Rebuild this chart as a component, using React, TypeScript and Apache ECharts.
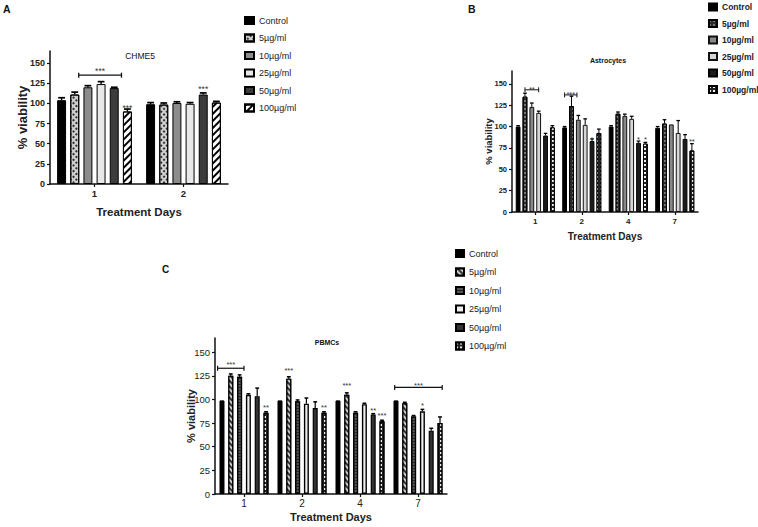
import React, { useEffect, useRef } from 'react';
import * as echarts from 'echarts';

const doseNames = ['Control', '5µg/ml', '10µg/ml', '25µg/ml', '50µg/ml', '100µg/ml'];
const daysA = ['1', '2'];
const daysBC = ['1', '2', '4', '7'];
const yTicks = [0, 25, 50, 75, 100, 125, 150];

// Panel A (CHME5): rows = dose, columns = day
const meanA = [
  [104, 99],
  [111, 98.5],
  [120, 100.5],
  [124, 99.5],
  [119, 111],
  [90, 101],
];
const upperA = [
  [107, 101],
  [114, 100.5],
  [122, 102],
  [127, 101],
  [120, 113],
  [93, 102.5],
];

// Panel B (Astrocytes)
const meanB = [
  [100, 99, 100, 98.5],
  [135, 124, 115, 103.5],
  [123, 108, 112.5, 102.5],
  [116, 102, 109, 92.5],
  [89.5, 83, 81, 85.5],
  [99, 92.5, 80, 72],
];
const upperB = [
  [101, 100, 101, 100],
  [139, 135.5, 117, 108],
  [127.5, 113, 114.5, 102.5],
  [118, 109, 112, 107],
  [92, 85.5, 83, 90.5],
  [101, 97, 81.5, 80],
];

// Panel C (PBMCs)
const meanC = [
  [99, 99, 99, 99],
  [125, 122, 105, 96],
  [124, 98, 86, 82],
  [105, 95.5, 95, 87.5],
  [103.5, 91, 84, 67],
  [86, 86, 77, 75],
];
const upperC = [
  [99, 99, 99, 99],
  [127, 124, 107, 97],
  [126, 99.5, 87, 83],
  [106, 101.5, 96, 89.5],
  [112, 97.5, 85, 69.5],
  [87, 87, 78, 81.5],
];

// significance annotations
const bracketsA = [{ day: 0, from: 1.3, to: 4.55, y: 135, ty: 143.5, text: '***' }];
const starsA = [
  { day: 0, dose: 5, y: 98, text: '***' },
  { day: 1, dose: 4, y: 121.5, text: '***' },
];
const bracketsB = [
  { day: 0, from: 1, to: 3, y: 143, ty: 145.5, text: '**' },
  { day: 1, from: 0, to: 1.8, y: 137, ty: 140, text: '***' },
];
const starsB = [
  { day: 1, dose: 4, y: 88, text: '*' },
  { day: 2, dose: 4, y: 88, text: '*' },
  { day: 2, dose: 5, y: 88, text: '*' },
  { day: 3, dose: 5, y: 85, text: '**' },
];
const bracketsC = [
  { day: 0, from: -0.5, to: 2.5, y: 133, ty: 139, text: '***' },
  { day: 3, from: -0.15, to: 5.25, y: 112.7, ty: 117.5, text: '***' },
];
const starsC = [
  { day: 0, dose: 5, y: 94, text: '**' },
  { day: 1, dose: 1, y: 133, text: '***' },
  { day: 1, dose: 5, y: 94, text: '**' },
  { day: 2, dose: 1, y: 117, text: '***' },
  { day: 2, dose: 4, y: 90.5, text: '**' },
  { day: 2, dose: 5, y: 85, text: '***' },
  { day: 3, dose: 3, y: 96, text: '*' },
];

const FONT = '"Liberation Sans", Arial, Helvetica, sans-serif';

const geomA = { c: 0.16, g: 0.47, n: 6 };
const geomB = { c: 0.16, g: 0.43, n: 6 };
const geomC = { c: 0.155, g: 0.76, n: 6 };

const stylesA: any[] = [
  { color: '#000', borderColor: '#000', borderWidth: 1 },
  {
    color: '#d0d0d0', borderColor: '#000', borderWidth: 1,
    decal: { symbol: 'rect', symbolSize: 1, dashArrayX: [1.5, 1.5], dashArrayY: [1.5, 1.5], rotation: Math.PI / 4, color: '#333' },
  },
  { color: '#8c8c8c', borderColor: '#000', borderWidth: 1 },
  { color: '#e8e8e8', borderColor: '#000', borderWidth: 1 },
  { color: '#3c3c3c', borderColor: '#000', borderWidth: 1 },
  {
    color: '#fff', borderColor: '#000', borderWidth: 1,
    decal: { symbol: 'rect', symbolSize: 1, dashArrayX: [1, 0], dashArrayY: [1.6, 2.2], rotation: -Math.PI / 4, color: '#000' },
  },
];
const stylesB: any[] = [
  { color: '#000', borderColor: '#000', borderWidth: 1 },
  {
    color: '#2a2a2a', borderColor: '#000', borderWidth: 1,
    decal: { symbol: 'rect', symbolSize: 0.7, dashArrayX: [1.2, 1.8], dashArrayY: [1.2, 1.8], color: '#bbb' },
  },
  { color: '#888', borderColor: '#111', borderWidth: 1 },
  { color: '#d6d6d6', borderColor: '#111', borderWidth: 1 },
  { color: '#1c1c1c', borderColor: '#000', borderWidth: 1 },
  {
    color: '#222', borderColor: '#000', borderWidth: 1,
    decal: { symbol: 'rect', symbolSize: 1, dashArrayX: [1.2, 1.8], dashArrayY: [1.5, 1.5], color: '#eee' },
  },
];
const stylesC: any[] = [
  { color: '#000', borderColor: '#000', borderWidth: 1 },
  {
    color: '#333', borderColor: '#000', borderWidth: 1.2,
    decal: { symbol: 'rect', symbolSize: 1, dashArrayX: [1, 0], dashArrayY: [1.5, 1.5], rotation: Math.PI / 4, color: '#ccc' },
  },
  {
    color: '#555', borderColor: '#000', borderWidth: 1.2,
    decal: { symbol: 'rect', symbolSize: 1, dashArrayX: [1, 0], dashArrayY: [1, 2], color: '#222' },
  },
  { color: '#eee', borderColor: '#000', borderWidth: 1.4 },
  { color: '#333', borderColor: '#000', borderWidth: 1.2 },
  {
    color: '#222', borderColor: '#000', borderWidth: 1.2,
    decal: { symbol: 'rect', symbolSize: 1, dashArrayX: [1.2, 1.8], dashArrayY: [1.5, 1.5], color: '#eee' },
  },
];

function barPos(api: any, day: number, dose: number, geom: any) {
  const band = api.size([1, 0])[0];
  const avail = band * (1 - geom.c);
  const bw = avail / (geom.n + (geom.n - 1) * geom.g);
  const cx = api.coord([day, 0])[0];
  return { x: cx - avail / 2 + bw * (1 + geom.g) * dose + bw / 2, bw };
}

function barSeries(prefix: string, mean: number[][], styles: any[], idx: number, geom: any) {
  return mean.map((row, dose) => ({
    type: 'bar',
    name: prefix + '|' + doseNames[dose],
    xAxisIndex: idx,
    yAxisIndex: idx,
    data: row,
    barGap: geom.g * 100 + '%',
    barCategoryGap: geom.c * 100 + '%',
    itemStyle: styles[dose],
    silent: true,
  }));
}

function errorSeries(mean: number[][], upper: number[][], idx: number, geom: any, lw: number) {
  const data: number[][] = [];
  mean.forEach((row, dose) => row.forEach((m, day) => data.push([day, dose, m, upper[dose][day]])));
  return {
    type: 'custom',
    xAxisIndex: idx,
    yAxisIndex: idx,
    z: 5,
    silent: true,
    clip: false,
    encode: { x: 0, y: 2 },
    data,
    renderItem: (_p: any, api: any) => {
      const day = api.value(0);
      const dose = api.value(1);
      const m = api.value(2);
      const u = api.value(3);
      if (!(u > m)) return { type: 'group', children: [] };
      const { x, bw } = barPos(api, day, dose, geom);
      const y0 = api.coord([day, m])[1];
      const y1 = api.coord([day, u])[1];
      const cap = bw * 0.38;
      return {
        type: 'group',
        children: [
          { type: 'line', shape: { x1: x, y1: y0, x2: x, y2: y1 }, style: { stroke: '#000', lineWidth: lw } },
          { type: 'line', shape: { x1: x - cap, y1: y1, x2: x + cap, y2: y1 }, style: { stroke: '#000', lineWidth: lw + 0.3 } },
        ],
      };
    },
  };
}

function starSeries(stars: any[], idx: number, geom: any, fs: number) {
  return {
    type: 'custom',
    xAxisIndex: idx,
    yAxisIndex: idx,
    z: 6,
    silent: true,
    clip: false,
    encode: { x: 0, y: 2 },
    data: stars.map((s) => [s.day, s.dose, s.y]),
    renderItem: (p: any, api: any) => {
      const s = stars[p.dataIndex];
      const { x } = barPos(api, api.value(0), api.value(1), geom);
      const y = api.coord([api.value(0), api.value(2)])[1];
      return {
        type: 'text',
        style: { text: s.text, x, y: y + fs * 0.3, align: 'center', verticalAlign: 'middle', fontSize: fs, fontFamily: FONT, fill: '#333' },
      };
    },
  };
}

function bracketSeries(brackets: any[], idx: number, geom: any, fs: number, lw: number) {
  return {
    type: 'custom',
    xAxisIndex: idx,
    yAxisIndex: idx,
    z: 6,
    silent: true,
    clip: false,
    encode: { x: 0, y: 3 },
    data: brackets.map((b) => [b.day, b.from, b.to, b.y, b.ty]),
    renderItem: (p: any, api: any) => {
      const b = brackets[p.dataIndex];
      const day = api.value(0);
      const xa = barPos(api, day, api.value(1), geom).x;
      const xb = barPos(api, day, api.value(2), geom).x;
      const y = api.coord([day, api.value(3)])[1];
      const ty = api.coord([day, api.value(4)])[1];
      const st = { stroke: '#111', lineWidth: lw };
      return {
        type: 'group',
        children: [
          { type: 'line', shape: { x1: xa, y1: y, x2: xb, y2: y }, style: st },
          { type: 'line', shape: { x1: xa, y1: y - 2.5, x2: xa, y2: y + 2.5 }, style: st },
          { type: 'line', shape: { x1: xb, y1: y - 2.5, x2: xb, y2: y + 2.5 }, style: st },
          {
            type: 'text',
            style: { text: b.text, x: (xa + xb) / 2, y: ty + fs * 0.3, align: 'center', verticalAlign: 'middle', fontSize: fs, fontFamily: FONT, fill: '#333' },
          },
        ],
      };
    },
  };
}

function makeX(idx: number, data: string[], fs: number, bold: boolean, margin: number, nameFs: number, nameGap: number) {
  return {
    type: 'category',
    gridIndex: idx,
    data,
    axisLine: { show: true, lineStyle: { color: '#111', width: 1.5 } },
    axisTick: { show: true, alignWithLabel: true, length: 3, lineStyle: { color: '#111', width: 1.2 } },
    axisLabel: { fontSize: fs, fontWeight: bold ? 'bold' : 'normal', color: '#222', margin, fontFamily: FONT },
    splitLine: { show: false },
    name: 'Treatment Days',
    nameLocation: 'middle',
    nameGap,
    nameMoveOverlap: false,
    nameTextStyle: { fontSize: nameFs, fontWeight: 'bold', color: '#222', fontFamily: FONT },
  };
}

function makeY(idx: number, fs: number, bold: boolean, margin: number, nameFs: number, nameGap: number) {
  return {
    type: 'value',
    gridIndex: idx,
    min: 0,
    max: 165,
    axisLine: { show: true, lineStyle: { color: '#111', width: 1.5 } },
    axisTick: { show: true, length: 3, customValues: yTicks, lineStyle: { color: '#111', width: 1.2 } },
    axisLabel: { customValues: yTicks, fontSize: fs, fontWeight: bold ? 'bold' : 'normal', color: '#222', margin, fontFamily: FONT },
    splitLine: { show: false },
    name: '% viability',
    nameLocation: 'middle',
    nameGap,
    nameRotate: 90,
    nameMoveOverlap: false,
    nameTextStyle: { fontSize: nameFs, fontWeight: 'bold', color: '#222', fontFamily: FONT },
  };
}

function makeLegend(prefix: string, left: number, top: number, itemGap: number, fs: number, bold: boolean, iw: number) {
  return {
    orient: 'vertical',
    left,
    top,
    itemWidth: iw,
    itemHeight: 7,
    itemGap,
    icon: 'rect',
    selectedMode: false,
    padding: 0,
    data: doseNames.map((d) => prefix + '|' + d),
    formatter: (n: string) => n.split('|')[1],
    textStyle: { fontSize: fs, fontWeight: bold ? 'bold' : 'normal', color: '#222', fontFamily: FONT, padding: [0, 0, 0, 0] },
  };
}

function gtext(text: string, x: number, y: number, fs: number, bold: boolean, align = 'left') {
  return {
    type: 'text',
    x,
    y,
    silent: true,
    style: { text, align, verticalAlign: 'top', fontSize: fs, fontWeight: bold ? 'bold' : 'normal', fontFamily: FONT, fill: '#111' },
  };
}

export default function App() {
  const ref = useRef<HTMLDivElement>(null);
  useEffect(() => {
    if (!ref.current) return;
    const chart = echarts.init(ref.current, null, { renderer: 'svg' });
    const option: any = {
      animation: false,
      backgroundColor: '#fff',
      grid: [
        { left: 50, top: 51, width: 178, height: 133, outerBoundsMode: 'none' },
        { left: 512, top: 71, width: 186, height: 141, outerBoundsMode: 'none' },
        { left: 215, top: 338, width: 232, height: 156, outerBoundsMode: 'none' },
      ],
      xAxis: [
        makeX(0, daysA, 9.5, true, 4, 11.5, 22),
        makeX(1, daysBC, 8, true, 5, 10, 19),
        makeX(2, daysBC, 10, false, 4, 11, 17),
      ],
      yAxis: [
        makeY(0, 9, true, 5, 13, 21),
        makeY(1, 7.5, true, 5, 9.5, 19),
        makeY(2, 9.5, false, 5, 11, 19),
      ],
      legend: [
        makeLegend('A', 244, 16, 8.5, 9, false, 9),
        makeLegend('B', 708, 2.5, 7.5, 8.5, true, 8),
        makeLegend('C', 455, 249, 9.5, 9, false, 8),
      ],
      graphic: [
        gtext('A', 3, 3, 10.5, true),
        gtext('B', 468, 3, 10.5, true),
        gtext('C', 162, 264, 10, true),
        gtext('CHME5', 140, 51, 8.5, false, 'center'),
        gtext('Astrocytes', 608, 57, 7, true, 'center'),
        gtext('PBMCs', 327, 339, 7, true, 'center'),
      ],
      series: [
        ...barSeries('A', meanA, stylesA, 0, geomA),
        ...barSeries('B', meanB, stylesB, 1, geomB),
        ...barSeries('C', meanC, stylesC, 2, geomC),
        errorSeries(meanA, upperA, 0, geomA, 1.4),
        errorSeries(meanB, upperB, 1, geomB, 1),
        errorSeries(meanC, upperC, 2, geomC, 1.2),
        starSeries(starsA, 0, geomA, 8.5),
        starSeries(starsB, 1, geomB, 7.5),
        starSeries(starsC, 2, geomC, 7.5),
        bracketSeries(bracketsA, 0, geomA, 8.5, 1.3),
        bracketSeries(bracketsB, 1, geomB, 7.5, 1),
        bracketSeries(bracketsC, 2, geomC, 7.5, 1.2),
      ],
    };
    chart.setOption(option);
    return () => chart.dispose();
  }, []);
  return <div ref={ref} style={{ position: 'fixed', left: 0, top: 0, width: 758, height: 527, background: '#fff' }} />;
}
